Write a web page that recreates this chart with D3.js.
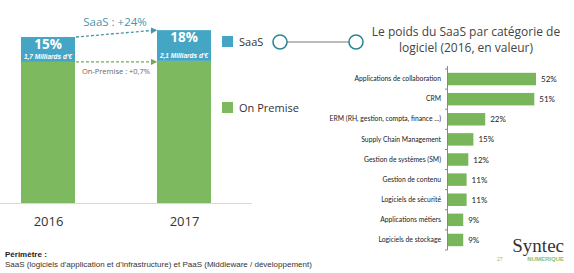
<!DOCTYPE html>
<html>
<head>
<meta charset="utf-8">
<script src="https://cdn.jsdelivr.net/npm/d3@7"></script>
<style>
  body { margin: 0; background: #fff; }
  svg { display: block; }
</style>
</head>
<body>
<div id="chart"></div>
<script>
// left chart data (billions of euros)
var years = ['2016', '2017'];
var saas = [1.7, 2.1];
var onPremise = [9.63, 9.70];
var saasPct = ['15%', '18%'];
var saasLabels = ['1,7 Milliards d\'€', '2,1 Milliards d\'€'];

// right chart data
var categories = ['Applications de collaboration', 'CRM', 'ERM (RH, gestion, compta, finance ...)',
    'Supply Chain Management', 'Gestion de systèmes (SM)', 'Gestion de contenu',
    'Logiciels de sécurité', 'Applications métiers', 'Logiciels de stockage'];
var shares = [52, 51, 22, 15, 12, 11, 11, 9, 9];

var blue = '#45a5c5', green = '#7dba5f', green2 = '#79b55b';

var svg = d3.select('#chart').append('svg')
    .attr('width', 574)
    .attr('height', 273);

// ---- left stacked bars
var x = d3.scalePoint().domain(years).range([48, 184]);
var y = d3.scaleLinear().domain([0, 12]).range([203, 27.2]);
var bw = 54;

var left = svg.append('g');

left.selectAll('.onprem')
    .data(years)
    .enter().append('rect')
    .attr('x', function (d) { return x(d) - bw / 2; })
    .attr('y', function (d, i) { return y(onPremise[i]); })
    .attr('width', bw)
    .attr('height', function (d, i) { return y(0) - y(onPremise[i]); })
    .style('fill', green);

left.selectAll('.saas')
    .data(years)
    .enter().append('rect')
    .attr('x', function (d) { return x(d) - bw / 2; })
    .attr('y', function (d, i) { return y(onPremise[i] + saas[i]); })
    .attr('width', bw)
    .attr('height', function (d, i) { return y(onPremise[i]) - y(onPremise[i] + saas[i]); })
    .style('fill', blue);

left.selectAll('.pct')
    .data(years)
    .enter().append('text')
    .attr('x', function (d) { return x(d); })
    .attr('y', function (d, i) { return y(onPremise[i] + saas[i]) + 12; })
    .attr('text-anchor', 'middle')
    .style('font', 'bold 13.5px "Open Sans", sans-serif')
    .style('fill', '#fff')
    .text(function (d, i) { return saasPct[i]; });

left.selectAll('.mil')
    .data(years)
    .enter().append('text')
    .attr('x', function (d) { return x(d); })
    .attr('y', function (d, i) { return y(onPremise[i]) - 3; })
    .attr('text-anchor', 'middle')
    .style('font', 'italic bold 6.5px "Liberation Sans", Arial, sans-serif')
    .style('fill', '#fff')
    .text(function (d, i) { return saasLabels[i]; });

// baseline
left.append('line')
    .attr('x1', 0).attr('x2', 252)
    .attr('y1', y(0) + 0.5).attr('y2', y(0) + 0.5)
    .style('stroke', '#d9d9d9');

var xAxis = d3.axisBottom(x).tickSize(0).tickPadding(14);
left.append('g')
    .attr('transform', 'translate(0,' + y(0) + ')')
    .call(xAxis)
    .call(function (g) { g.select('.domain').remove(); })
    .selectAll('text')
    .style('font', '13px "Open Sans", sans-serif')
    .style('fill', '#333');

// growth arrows
var defs = svg.append('defs');
[['arrBlue', '#4a95ab'], ['arrGreen', '#78a860']].forEach(function (m) {
    defs.append('marker')
        .attr('id', m[0])
        .attr('viewBox', '0 0 10 10')
        .attr('refX', 8).attr('refY', 5)
        .attr('markerWidth', 5).attr('markerHeight', 5)
        .attr('orient', 'auto')
        .append('path')
        .attr('d', 'M0,0L10,5L0,10z')
        .style('fill', m[1]);
});

var x0 = x(years[0]) + bw / 2 + 1, x1 = x(years[1]) - bw / 2 - 1;
left.append('line')
    .attr('x1', x0).attr('y1', y(onPremise[0] + saas[0]))
    .attr('x2', x1).attr('y2', y(onPremise[1] + saas[1]))
    .style('stroke', '#4a95ab').style('stroke-width', 1.3)
    .style('stroke-dasharray', '3,2')
    .attr('marker-end', 'url(#arrBlue)');
left.append('line')
    .attr('x1', x0).attr('y1', y(onPremise[0]))
    .attr('x2', x1).attr('y2', y(onPremise[1]) + 1)
    .style('stroke', '#78a860').style('stroke-width', 1.3)
    .style('stroke-dasharray', '3,2')
    .attr('marker-end', 'url(#arrGreen)');

left.append('text')
    .attr('x', 115).attr('y', 26)
    .attr('text-anchor', 'middle')
    .style('font', '11.5px "Open Sans", sans-serif')
    .style('fill', '#4a95ab')
    .text('SaaS : +24%');
left.append('text')
    .attr('x', 116).attr('y', 74)
    .attr('text-anchor', 'middle')
    .style('font', '7.5px "Open Sans", sans-serif')
    .style('fill', '#666')
    .text('On-Premise : +0,7%');

// legend
var legend = [['SaaS', blue, 36], ['On Premise', green, 102]];
legend.forEach(function (l) {
    svg.append('rect')
        .attr('x', 222).attr('y', l[2])
        .attr('width', 11).attr('height', 11)
        .style('fill', l[1]);
    svg.append('text')
        .attr('x', 239).attr('y', l[2] + 9.5)
        .style('font', '11px "Open Sans", sans-serif')
        .style('fill', '#333')
        .text(l[0]);
});

// connector circles
svg.append('line')
    .attr('x1', 287).attr('x2', 349)
    .attr('y1', 42).attr('y2', 42)
    .style('stroke', '#555').style('stroke-width', 0.8);
[280, 356].forEach(function (cx) {
    svg.append('circle')
        .attr('cx', cx).attr('cy', 42).attr('r', 7)
        .style('fill', '#fff')
        .style('stroke', '#2f8593').style('stroke-width', 1.6);
});

// title
var title = svg.append('text')
    .attr('text-anchor', 'middle')
    .style('font', '12px "Open Sans", sans-serif')
    .style('fill', '#444');
title.append('tspan').attr('x', 466).attr('y', 36).text('Le poids du SaaS par catégorie de');
title.append('tspan').attr('x', 466).attr('y', 52).text('logiciel (2016, en valeur)');

// ---- right horizontal bars
var yc = d3.scaleBand().domain(categories).range([69, 250]).paddingInner(0.38).paddingOuter(0.19);
var xs = d3.scaleLinear().domain([0, 52]).range([448, 536]);

var right = svg.append('g');
right.selectAll('rect')
    .data(categories)
    .enter().append('rect')
    .attr('x', xs(0))
    .attr('y', function (d) { return yc(d); })
    .attr('width', function (d, i) { return xs(shares[i]) - xs(0); })
    .attr('height', yc.bandwidth())
    .style('fill', green2);

right.selectAll('.val')
    .data(categories)
    .enter().append('text')
    .attr('x', function (d, i) { return xs(shares[i]) + 5; })
    .attr('y', function (d) { return yc(d) + yc.bandwidth() / 2 + 3; })
    .style('font', '8px "Lato", sans-serif')
    .style('fill', '#222')
    .text(function (d, i) { return shares[i] + '%'; });

var yAxis = d3.axisLeft(yc).tickSize(0).tickPadding(6);
var ga = right.append('g')
    .attr('transform', 'translate(' + (xs(0) - 1) + ',0)')
    .call(yAxis);
ga.select('.domain').style('stroke', '#888').attr('d', 'M0.5,' + 66 + 'V250');
ga.selectAll('text')
    .style('font', '6.8px "Lato", sans-serif')
    .style('fill', '#222');
// boundary ticks
var bounds = categories.map(function (d) { return yc(d) - yc.step() * yc.paddingInner() / 2; });
bounds.push(250);
ga.selectAll('.bt')
    .data(bounds)
    .enter().append('line')
    .attr('x1', -2).attr('x2', 0.5)
    .attr('y1', function (d) { return d; }).attr('y2', function (d) { return d; })
    .style('stroke', '#888');

// footer
svg.append('text')
    .attr('x', 5).attr('y', 257)
    .style('font', 'bold 8px "Liberation Sans", Arial, sans-serif')
    .style('fill', '#222')
    .text('Périmètre :');
svg.append('text')
    .attr('x', 5).attr('y', 267)
    .style('font', '8px "Liberation Sans", Arial, sans-serif')
    .style('fill', '#333')
    .text('SaaS (logiciels d\u2019application et d\u2019infrastructure) et PaaS (Middleware / développement)');

// logo
svg.append('text')
    .attr('x', 564).attr('y', 252)
    .attr('text-anchor', 'end')
    .style('font', '19px "Liberation Serif", serif')
    .style('fill', '#333')
    .text('Syntec');
svg.append('text')
    .attr('x', 564).attr('y', 261)
    .attr('text-anchor', 'end')
    .style('font', 'bold 6px "Liberation Sans", Arial, sans-serif')
    .style('fill', '#8bc06b')
    .text('NUMERIQUE');
svg.append('text')
    .attr('x', 497).attr('y', 261)
    .style('font', '5px "Liberation Sans", Arial, sans-serif')
    .style('fill', '#8bc06b')
    .text('27');
</script>
</body>
</html>
